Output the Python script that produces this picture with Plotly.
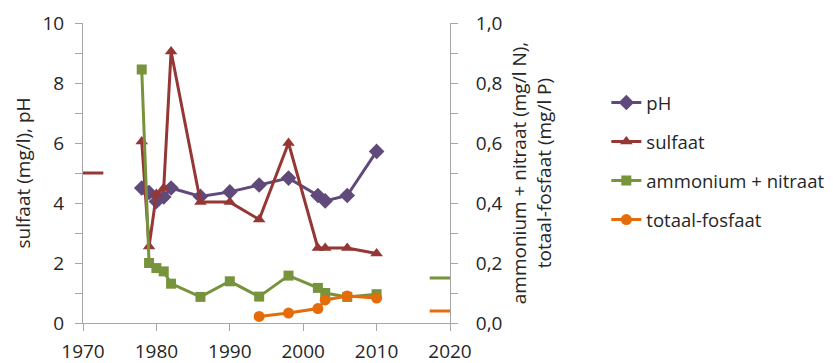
import plotly.graph_objects as go

years = [1978, 1979, 1980, 1981, 1982, 1986, 1990, 1994, 1998, 2002, 2003, 2006, 2010]
ph = [4.5, 4.35, 4.05, 4.2, 4.5, 4.22, 4.37, 4.6, 4.83, 4.25, 4.07, 4.25, 5.72]
sulfaat = [6.05, 2.55, 4.3, 4.5, 9.05, 4.03, 4.03, 3.45, 6.0, 2.5, 2.5, 2.5, 2.32]
ammonium_nitraat = [0.845, 0.2, 0.183, 0.172, 0.131, 0.087, 0.139, 0.088, 0.158, 0.117, 0.1, 0.087, 0.096]
fosfaat_years = [1994, 1998, 2002, 2003, 2006, 2010]
fosfaat = [0.022, 0.033, 0.048, 0.077, 0.09, 0.083]

# reference (norm) values shown as short dashes at the axes
norm_sulfaat = 5.0
norm_n = 0.15
norm_p = 0.04

c_ph = "#604A7B"
c_sulf = "#953735"
c_n = "#77933C"
c_p = "#E46C0A"
font = "Open Sans"
fs = 19
txt = "#262626"

fig = go.Figure()
fig.add_trace(go.Scatter(x=years, y=ph, name="pH", mode="lines+markers",
                         line=dict(color=c_ph, width=3),
                         marker=dict(symbol="diamond", size=12, color=c_ph),
                         legendgroup="a"))
fig.add_trace(go.Scatter(x=years, y=sulfaat, name="sulfaat", mode="lines+markers",
                         line=dict(color=c_sulf, width=3),
                         marker=dict(symbol="triangle-up", size=11, color=c_sulf),
                         legendgroup="b"))
fig.add_trace(go.Scatter(x=years, y=ammonium_nitraat, name="ammonium + nitraat", mode="lines+markers",
                         line=dict(color=c_n, width=3),
                         marker=dict(symbol="square", size=10, color=c_n),
                         yaxis="y2", legendgroup="c"))
fig.add_trace(go.Scatter(x=fosfaat_years, y=fosfaat, name="totaal-fosfaat", mode="lines+markers",
                         line=dict(color=c_p, width=3),
                         marker=dict(symbol="circle", size=11, color=c_p),
                         yaxis="y2", legendgroup="d"))

# norm dashes
fig.add_trace(go.Scatter(x=[1971.15], y=[norm_sulfaat], mode="markers", showlegend=False,
                         marker=dict(symbol="line-ew", size=17, line=dict(color=c_sulf, width=3)),
                         hoverinfo="skip"))
fig.add_trace(go.Scatter(x=[2018.85], y=[norm_n], mode="markers", showlegend=False, yaxis="y2",
                         marker=dict(symbol="line-ew", size=17, line=dict(color=c_n, width=3)),
                         hoverinfo="skip"))
fig.add_trace(go.Scatter(x=[2018.85], y=[norm_p], mode="markers", showlegend=False, yaxis="y2",
                         marker=dict(symbol="line-ew", size=17, line=dict(color=c_p, width=3)),
                         hoverinfo="skip"))

axis_color = "#A6A6A6"
tickfont = dict(family=font, size=fs, color=txt)

fig.update_layout(
    width=833, height=363,
    margin=dict(l=75, r=391, t=15, b=48, autoexpand=False),
    paper_bgcolor="white", plot_bgcolor="white",
    font=dict(family=font, size=fs, color=txt),
    xaxis=dict(range=[1970, 2020], dtick=10, tick0=1970, showgrid=False, zeroline=False,
               showline=True, linecolor=axis_color, linewidth=1, automargin=False,
               ticks="outside", ticklen=7, tickcolor=axis_color, tickfont=tickfont,
               ticklabelstandoff=4),
    yaxis=dict(range=[0, 10], dtick=2, showgrid=False, zeroline=False, automargin=False,
               showline=True, linecolor=axis_color, linewidth=1,
               ticks="outside", ticklen=7, tickcolor=axis_color, tickfont=tickfont,
               ticklabelstandoff=7,
               minor=dict(dtick=1, ticks="outside", ticklen=7, tickcolor=axis_color, showgrid=False),
               title=dict(text="sulfaat (mg/l), pH", font=dict(family=font, size=fs, color=txt), standoff=6)),
    yaxis2=dict(range=[0, 1], dtick=0.2, overlaying="y", side="right", anchor="x",
                showgrid=False, zeroline=False, tickformat=".1f", automargin=False,
                showline=True, linecolor=axis_color, linewidth=1,
                ticks="outside", ticklen=7, tickcolor=axis_color, tickfont=tickfont,
                ticklabelstandoff=14,
                minor=dict(dtick=0.1, ticks="outside", ticklen=7, tickcolor=axis_color, showgrid=False),
                title=dict(text="ammonium + nitraat (mg/l N),<br>totaal-fosfaat (mg/l P)",
                           font=dict(family=font, size=fs, color=txt), standoff=11)),
    separators=", ",
    legend=dict(x=1.426, y=0.797, xanchor="left", yanchor="top",
                font=dict(family=font, size=18.5, color=txt),
                traceorder="grouped", tracegroupgap=12, bgcolor="rgba(0,0,0,0)"),
)

fig.write_html("out.html")
